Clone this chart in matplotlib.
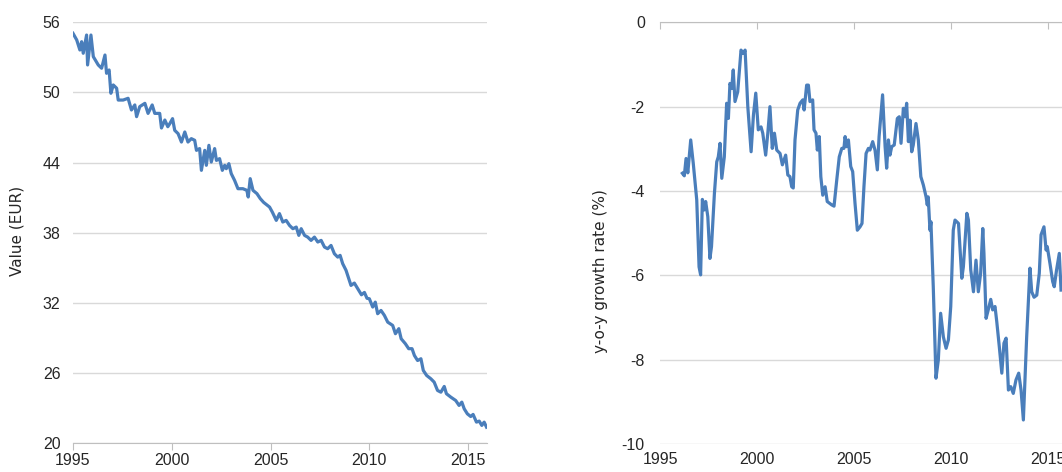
import matplotlib
matplotlib.use("Agg")
import matplotlib.pyplot as plt

plt.rcParams["axes.unicode_minus"] = False

# price level, left panel (fractional year, EUR)
val_years = [1995.0, 1995.19, 1995.35, 1995.44, 1995.52, 1995.69, 1995.74, 1995.91, 1996.03, 1996.28,
             1996.45, 1996.62, 1996.7, 1996.83, 1996.92, 1997.04, 1997.21, 1997.29, 1997.54, 1997.79,
             1997.96, 1998.13, 1998.22, 1998.38, 1998.64, 1998.8, 1999.01, 1999.14, 1999.39, 1999.48,
             1999.65, 1999.8, 1999.9, 2000.04, 2000.15, 2000.32, 2000.49, 2000.66, 2000.82, 2000.99,
             2001.16, 2001.25, 2001.41, 2001.5, 2001.67, 2001.75, 2001.88, 2002.0, 2002.17, 2002.26,
             2002.42, 2002.56, 2002.68, 2002.76, 2002.89, 2003.01, 2003.18, 2003.35, 2003.6, 2003.8,
             2003.87, 2003.97, 2004.11, 2004.31, 2004.48, 2004.65, 2004.8, 2004.95, 2005.09, 2005.29,
             2005.45, 2005.62, 2005.79, 2005.96, 2006.13, 2006.3, 2006.43, 2006.55, 2006.72, 2006.88,
             2007.05, 2007.22, 2007.39, 2007.56, 2007.73, 2007.89, 2008.06, 2008.23, 2008.4, 2008.52,
             2008.65, 2008.82, 2008.96, 2009.07, 2009.24, 2009.41, 2009.6, 2009.75, 2009.88, 2010.0,
             2010.17, 2010.3, 2010.42, 2010.59, 2010.76, 2010.93, 2011.18, 2011.32, 2011.49, 2011.61,
             2011.82, 2011.99, 2012.16, 2012.28, 2012.44, 2012.61, 2012.73, 2012.9, 2013.11, 2013.28,
             2013.45, 2013.62, 2013.79, 2013.9, 2014.12, 2014.37, 2014.54, 2014.68, 2014.8, 2014.96,
             2015.13, 2015.25, 2015.42, 2015.56, 2015.69, 2015.81, 2015.93]
values = [55.06, 54.49, 53.63, 54.34, 53.35, 54.91, 52.35, 54.91, 53.06, 52.35,
          52.07, 53.2, 51.64, 51.92, 49.93, 50.64, 50.36, 49.35, 49.35, 49.5,
          48.5, 48.93, 47.93, 48.79, 49.07, 48.21, 48.93, 48.21, 48.21, 46.96,
          47.64, 47.07, 47.33, 47.76, 46.76, 46.48, 45.76, 46.62, 45.76, 46.05,
          45.91, 45.05, 45.2, 43.34, 45.05, 43.77, 45.48, 44.05, 45.2, 44.19,
          44.34, 43.34, 43.77, 43.48, 43.91, 43.06, 42.48, 41.77, 41.77, 41.63,
          41.06, 42.63, 41.63, 41.35, 40.92, 40.6, 40.4, 40.2, 39.77, 39.06,
          39.64, 38.92, 39.06, 38.63, 38.35, 38.49, 37.78, 38.35, 37.78, 37.63,
          37.35, 37.63, 37.21, 37.35, 36.78, 36.64, 36.92, 36.21, 35.92, 36.07,
          35.36, 34.79, 34.08, 33.5, 33.7, 33.22, 32.7, 32.9, 32.4, 32.36,
          31.65, 32.07, 31.08, 31.36, 30.94, 30.36, 30.08, 29.37, 29.8, 28.94,
          28.52, 28.09, 28.09, 27.51, 27.08, 27.23, 26.23, 25.8, 25.52, 25.23,
          24.52, 24.37, 24.86, 24.24, 23.95, 23.66, 23.24, 23.52, 22.95, 22.52,
          22.29, 22.47, 21.81, 21.9, 21.53, 21.81, 21.38]

# year-on-year growth rate, right panel (%)
g_years = [1996.15, 1996.25, 1996.34, 1996.43, 1996.58, 1996.71, 1996.89, 1997.01, 1997.09, 1997.18,
           1997.28, 1997.35, 1997.46, 1997.57, 1997.65, 1997.8, 1997.92, 1998.0, 1998.09, 1998.18,
           1998.31, 1998.43, 1998.52, 1998.6, 1998.69, 1998.77, 1998.86, 1999.0, 1999.17, 1999.29,
           1999.38, 1999.52, 1999.69, 1999.81, 1999.93, 2000.06, 2000.2, 2000.29, 2000.44, 2000.55,
           2000.66, 2000.78, 2000.89, 2001.01, 2001.18, 2001.3, 2001.47, 2001.58, 2001.69, 2001.78,
           2001.86, 2001.95, 2002.09, 2002.21, 2002.35, 2002.42, 2002.55, 2002.64, 2002.72, 2002.86,
           2002.93, 2003.03, 2003.1, 2003.2, 2003.28, 2003.38, 2003.5, 2003.61, 2003.84, 2003.96,
           2004.1, 2004.23, 2004.36, 2004.47, 2004.53, 2004.61, 2004.7, 2004.82, 2004.92, 2005.04,
           2005.16, 2005.3, 2005.4, 2005.5, 2005.61, 2005.73, 2005.81, 2005.95, 2006.07, 2006.19,
           2006.28, 2006.46, 2006.59, 2006.67, 2006.76, 2006.84, 2006.93, 2007.06, 2007.22, 2007.32,
           2007.41, 2007.53, 2007.62, 2007.7, 2007.79, 2007.87, 2007.96, 2008.04, 2008.18, 2008.3,
           2008.43, 2008.56, 2008.7, 2008.76, 2008.81, 2008.9, 2008.95, 2009.07, 2009.21, 2009.33,
           2009.45, 2009.59, 2009.73, 2009.85, 2009.97, 2010.1, 2010.19, 2010.37, 2010.54, 2010.62,
           2010.8, 2010.88, 2011.0, 2011.14, 2011.27, 2011.39, 2011.51, 2011.62, 2011.68, 2011.79,
           2011.9, 2012.03, 2012.13, 2012.25, 2012.34, 2012.47, 2012.6, 2012.71, 2012.82, 2012.94,
           2013.06, 2013.19, 2013.33, 2013.47, 2013.59, 2013.71, 2013.88, 2014.05, 2014.14, 2014.26,
           2014.4, 2014.53, 2014.62, 2014.77, 2014.88, 2014.94, 2015.08, 2015.22, 2015.3, 2015.42,
           2015.56, 2015.65]
growth = [-3.58, -3.64, -3.23, -3.57, -2.79, -3.34, -4.21, -5.8, -5.99, -4.2,
          -4.45, -4.25, -4.61, -5.6, -5.32, -4.06, -3.31, -3.19, -2.87, -3.7,
          -3.19, -1.92, -2.28, -1.45, -1.57, -1.13, -1.88, -1.65, -0.66, -0.74,
          -0.66, -2.0, -3.07, -2.2, -1.68, -2.55, -2.48, -2.63, -3.15, -2.63,
          -2.0, -2.99, -2.63, -3.03, -3.11, -3.38, -3.15, -3.62, -3.66, -3.9,
          -3.93, -2.79, -2.08, -1.92, -1.84, -2.08, -1.49, -1.49, -1.88, -1.84,
          -2.55, -2.63, -3.03, -2.71, -3.66, -4.1, -3.9, -4.25, -4.33, -4.36,
          -3.74, -3.19, -2.99, -2.99, -2.71, -2.95, -2.79, -3.42, -3.54, -4.29,
          -4.93, -4.85, -4.77, -3.9, -3.11, -2.99, -3.03, -2.83, -3.03, -3.5,
          -2.71, -1.72, -2.95, -3.46, -2.79, -3.15, -2.95, -2.91, -2.28, -2.24,
          -2.87, -2.04, -2.24, -1.92, -2.83, -2.32, -3.07, -2.91, -2.4, -2.79,
          -3.66, -3.86, -4.14, -4.33, -4.14, -4.93, -4.73, -6.27, -8.44, -8.01,
          -6.9, -7.46, -7.73, -7.53, -6.74, -4.93, -4.69, -4.77, -6.07, -5.8,
          -4.53, -4.69, -5.87, -6.39, -5.64, -6.39, -5.95, -4.89, -5.48, -7.02,
          -6.82, -6.57, -6.82, -6.74, -7.1, -7.69, -8.32, -7.61, -7.49, -8.72,
          -8.64, -8.8, -8.48, -8.32, -8.72, -9.43, -7.46, -5.83, -6.39, -6.52,
          -6.47, -5.95, -5.04, -4.85, -5.4, -5.32, -5.72, -6.15, -6.27, -5.87,
          -5.48, -6.35]

blue = "#4a7ebb"
grid_c = "#d9d9d9"
axis_c = "#bfbfbf"
tick_font = "Liberation Sans"

fig = plt.figure(figsize=(10.62, 4.72), dpi=100)

# left panel
ax1 = fig.add_axes([0.0687, 0.0608, 0.3898, 0.892])
ax1.plot(val_years, values, color=blue, lw=2.3)
ax1.set_xlim(1995, 2015.95)
ax1.set_ylim(20, 56)
ax1.set_yticks([20, 26, 32, 38, 44, 50, 56])
ax1.set_xticks([1995, 2000, 2005, 2010, 2015])
ax1.yaxis.grid(True, color=grid_c, lw=1)
ax1.set_axisbelow(True)
for s in ["top", "right", "left"]:
    ax1.spines[s].set_visible(False)
ax1.spines["bottom"].set_color(axis_c)
ax1.tick_params(axis="y", length=0, pad=9)
ax1.tick_params(axis="x", length=5, color=axis_c, pad=2)
for lab in ax1.get_xticklabels() + ax1.get_yticklabels():
    lab.set_family(tick_font)
    lab.set_fontsize(11.5)
    lab.set_color("#262626")
fig.text(0.016, 0.51, "Value (EUR)", rotation=90, ha="center", va="center",
         fontsize=11, color="#262626", family="DejaVu Sans")

# right panel
ax2 = fig.add_axes([0.6215, 0.0593, 0.384, 0.8935])
ax2.plot(g_years, growth, color=blue, lw=2.3)
ax2.set_xlim(1995, 2016)
ax2.set_ylim(-10, 0)
ax2.set_yticks([-10, -8, -6, -4, -2, 0])
ax2.set_xticks([1995, 2000, 2005, 2010, 2015])
ax2.yaxis.grid(True, color=grid_c, lw=1)
ax2.set_axisbelow(True)
for s in ["bottom", "right", "left"]:
    ax2.spines[s].set_visible(False)
ax2.spines["top"].set_color(axis_c)
ax2.tick_params(axis="y", length=0, pad=11)
ax2.xaxis.set_tick_params(top=True, bottom=False, labeltop=False, labelbottom=True,
                          direction="in", length=5, color=axis_c, pad=6)
for lab in ax2.get_xticklabels() + ax2.get_yticklabels():
    lab.set_family(tick_font)
    lab.set_fontsize(11.5)
    lab.set_color("#262626")
fig.text(0.565, 0.425, "y-o-y growth rate (%)", rotation=90, ha="center", va="center",
         fontsize=11, color="#262626", family="DejaVu Sans")

fig.savefig("out.png", dpi=100)
